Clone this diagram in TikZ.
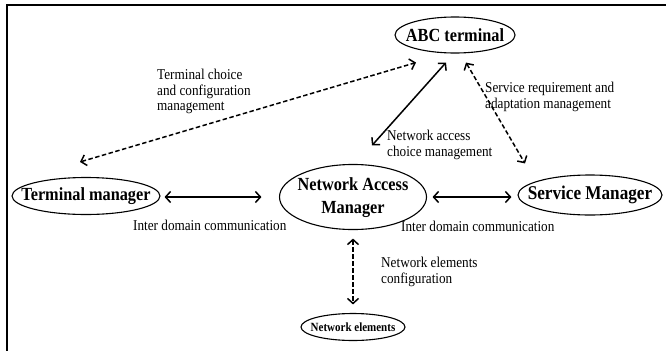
\documentclass[tikz,border=0pt]{standalone}
\usepackage{fontspec}
\setmainfont{Liberation Serif}[FakeStretch=0.88]
\usetikzlibrary{arrows.meta,shapes.geometric}
\begin{document}
\begin{tikzpicture}[x=1pt,y=-1pt,
  ent/.style={ellipse,draw,line width=1.1pt,inner sep=0pt,font=\bfseries\fontsize{18.5}{23}\selectfont},
  lbl/.style={inner sep=0pt,anchor=north west,align=left,font=\fontsize{15}{15.5}\selectfont},
  conn/.style={line width=1.5pt,{Straight Barb[length=5pt,width=11pt]}-{Straight Barb[length=5pt,width=11pt]}},
  dashconn/.style={conn,dash pattern=on 4.5pt off 2.5pt}]
\useasboundingbox (0,0) rectangle (666,351);
\draw[line width=2pt] (666,5) -- (7,5) -- (7,351);
\node[ent,minimum width=120pt,minimum height=36pt] (abc) at (455,35) {\makebox[0pt]{ABC terminal}};
\node[ent,minimum width=148pt,minimum height=37pt] (tm) at (86,196) {\makebox[0pt]{Terminal manager}};
\node[ent,minimum width=147pt,minimum height=65pt] (nam) at (353,197) {\makebox[0pt]{\begin{tabular}{@{}c@{}}Network Access\\Manager\end{tabular}}};
\node[ent,minimum width=144pt,minimum height=40pt,font=\bfseries\fontsize{19.5}{23}\selectfont] (sm) at (590,195) {\makebox[0pt]{Service Manager}};
\node[ent,minimum width=104pt,minimum height=27pt,font=\bfseries\fontsize{12.5}{14}\selectfont] (ne) at (353,327) {\makebox[0pt]{Network elements}};
\draw[dashconn] ([shift={(-6,-15)}]tm.north) -- ([shift={(-39,9)}]abc.south);
\draw[conn] ([shift={(19,-18.5)}]nam.north) -- ([shift={(-9,9)}]abc.south);
\draw[dashconn] ([shift={(11,9)}]abc.south) -- ([shift={(-65,-11)}]sm.north);
\draw[conn] ([shift={(4,1)}]tm.east) -- ([shift={(-17.5,0)}]nam.west);
\draw[conn] ([shift={(5.5,0)}]nam.east) -- ([shift={(-6,2)}]sm.west);
\draw[dashconn] ([shift={(0,8.5)}]nam.south) -- ([shift={(0,-8.5)}]ne.north);
\node[lbl] (l1) at (157,69) {Terminal choice\\and configuration\\management};
\node[lbl] (l2) at (387,130) {Network access\\choice management};
\node[lbl] (l3) at (485,82) {Service requirement and\\adaptation management};
\node[lbl] (l4) at (133,220) {Inter domain communication};
\node[lbl] (l5) at (401,221) {Inter domain communication};
\node[lbl] (l6) at (381,257) {Network elements\\configuration};
\end{tikzpicture}
\end{document}
